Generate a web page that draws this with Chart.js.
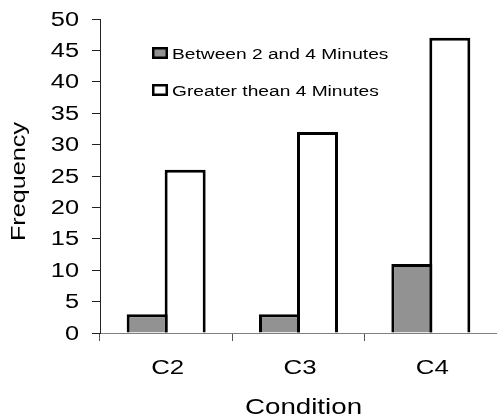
<!DOCTYPE html>
<html>
<head>
<meta charset="utf-8">
<script src="https://cdn.jsdelivr.net/npm/chart.js@4/dist/chart.umd.min.js"></script>
<style>
  html, body { margin: 0; padding: 0; background: #fff; }
  #wrap { width: 497px; height: 420px; }
</style>
</head>
<body>
<div id="wrap"><canvas id="grafica"></canvas></div>
<script>
// datos de la grafica
var categorias = ['C2', 'C3', 'C4'];
var entre2y4 = [3, 3, 11];
var mayor4 = [26, 32, 47];
var nombresSeries = ['Between 2 and 4 Minutes', 'Greater thean 4 Minutes'];
var coloresSeries = ['#929292', '#ffffff'];
var tituloX = 'Condition';
var tituloY = 'Frequency';

var fuente = '"Liberation Sans", Arial, sans-serif';

// texto ensanchado (el original usa una letra mas ancha)
function textoAncho(ctx, texto, x, y, size, ancho, align, angulo) {
    ctx.save();
    ctx.font = size + 'px ' + fuente;
    ctx.textBaseline = 'alphabetic';
    ctx.textAlign = align;
    ctx.fillStyle = '#000';
    ctx.translate(x, y);
    if (angulo) ctx.rotate(angulo);
    ctx.scale(ancho, 1);
    ctx.fillText(texto, 0, 0);
    ctx.restore();
}

// etiquetas, titulos y leyenda dibujados a mano
var textosGrafica = {
    id: 'textosGrafica',
    afterDraw: function (chart) {
        var ctx = chart.ctx;
        var area = chart.chartArea;
        var sx = chart.scales.x, sy = chart.scales.y;

        // etiquetas eje y
        sy.ticks.forEach(function (t, i) {
            textoAncho(ctx, String(t.value), 79, sy.getPixelForTick(i) + 6.5, 19.5, 1.3, 'right');
        });
        // etiquetas eje x
        sx.ticks.forEach(function (t, i) {
            textoAncho(ctx, categorias[i], sx.getPixelForTick(i) + 1.5, 374, 21, 1.23, 'center');
        });
        // titulos
        textoAncho(ctx, tituloX, (area.left + area.right) / 2 + 5, 414, 22, 1.26, 'center');
        textoAncho(ctx, tituloY, 25, (area.top + area.bottom) / 2 + 5.5, 21, 1.2, 'center', -Math.PI / 2);

        // leyenda
        for (var i = 0; i < chart.data.datasets.length; i++) {
            var ds = chart.data.datasets[i];
            var yy = 47 + i * 37;
            ctx.save();
            ctx.fillStyle = ds.backgroundColor;
            ctx.fillRect(152, yy, 16, 12);
            ctx.lineWidth = 2.5;
            ctx.strokeStyle = '#000';
            ctx.strokeRect(153.25, yy + 1.25, 13.5, 9.5);
            ctx.restore();
            textoAncho(ctx, ds.label, 172, yy + 12, 15.5, 1.237, 'left');
        }
    }
};

var conjuntos = [entre2y4, mayor4].map(function (valores, i) {
    return {
        label: nombresSeries[i],
        data: valores,
        backgroundColor: coloresSeries[i],
        borderColor: '#000',
        borderWidth: 3,
        borderSkipped: 'bottom',
        barPercentage: 1.08,
        categoryPercentage: 0.574
    };
});

new Chart(document.getElementById('grafica'), {
    type: 'bar',
    data: { labels: categorias, datasets: conjuntos },
    plugins: [textosGrafica],
    options: {
        responsive: true,
        maintainAspectRatio: false,
        animation: false,
        layout: { padding: { top: 19, right: 0, bottom: 0, left: 0 } },
        plugins: {
            legend: { display: false },
            tooltip: { enabled: false }
        },
        scales: {
            x: {
                afterFit: function (s) { s.height = 87; },
                grid: { drawOnChartArea: false, drawTicks: true, tickLength: 8, color: '#555555', offset: true },
                border: { display: true, color: '#808080', width: 1 },
                ticks: { display: false }
            },
            y: {
                min: 0,
                max: 50,
                afterFit: function (s) { s.width = 100; },
                grid: { drawOnChartArea: false, drawTicks: true, tickLength: 8, color: '#222222' },
                border: { display: true, color: '#222222', width: 1 },
                ticks: { display: false, stepSize: 5 }
            }
        }
    }
});
</script>
</body>
</html>
